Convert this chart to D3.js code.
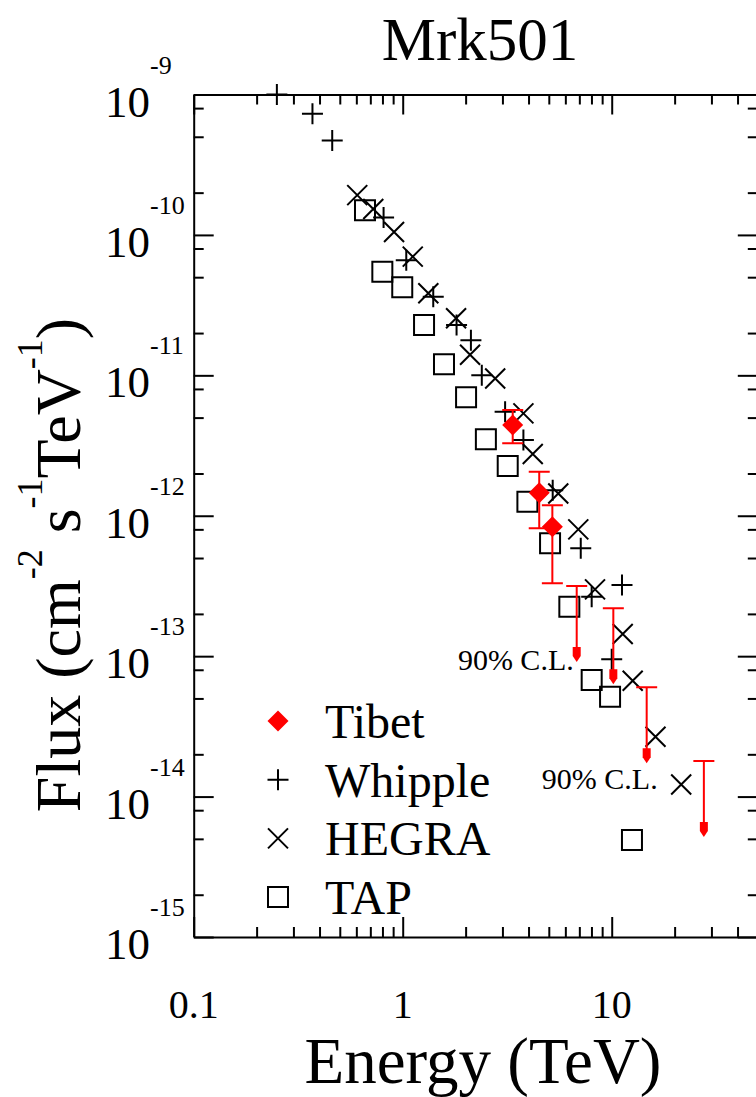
<!DOCTYPE html>
<html>
<head>
<meta charset="utf-8">
<script src="https://cdn.jsdelivr.net/npm/d3@7"></script>
<style>
  html, body { margin: 0; padding: 0; background: #fff; overflow: hidden; }
  svg { display: block; }
  text { font-family: "Liberation Serif", "Times New Roman", serif; fill: #000; }
</style>
</head>
<body>
<svg id="chart" width="756" height="1097"></svg>
<script>
// ---- Mrk501 spectrum: energy in TeV, flux in cm^-2 s^-1 TeV^-1 ----
const whippleEnergy = [0.25, 0.37, 0.46, 0.81, 1.04, 1.40, 1.81, 2.12, 2.39, 3.09, 3.78, 5.22, 7.11, 8.02, 10.0, 11.2];
const whippleFlux   = [1.0e-9, 7.3e-10, 4.7e-10, 1.33e-10, 6.6e-11, 3.63e-11, 2.28e-11, 1.78e-11, 1.0e-11, 5.5e-12, 3.46e-12, 1.52e-12, 5.86e-13, 2.65e-13, 9.5e-14, 3.21e-13];

const hegraEnergy = [0.606, 0.723, 0.909, 1.117, 1.326, 1.80, 2.10, 2.77, 3.78, 4.19, 5.55, 6.92, 8.32, 11.29, 12.6, 16.2, 21.5];
const hegraFlux   = [1.92e-10, 1.53e-10, 1.05e-10, 7.0e-11, 3.84e-11, 2.55e-11, 1.40e-11, 9.5e-12, 5.36e-12, 2.75e-12, 1.44e-12, 8.0e-13, 2.99e-13, 1.44e-13, 6.68e-14, 2.67e-14, 1.22e-14];

const tapEnergy = [0.660, 0.799, 0.995, 1.265, 1.576, 2.01, 2.50, 3.18, 3.95, 5.07, 6.27, 8.02, 9.82, 12.5];
const tapFlux   = [1.50e-10, 5.47e-11, 4.24e-11, 2.28e-11, 1.20e-11, 6.97e-12, 3.50e-12, 2.26e-12, 1.26e-12, 6.36e-13, 2.25e-13, 6.76e-14, 5.14e-14, 4.9e-15];

const tibetEnergy  = [3.36, 4.50, 5.20];
const tibetFlux    = [4.43e-12, 1.46e-12, 8.35e-13];
const tibetFluxHi  = [5.66e-12, 2.06e-12, 1.19e-12];
const tibetFluxLo  = [3.28e-12, 8.13e-13, 3.30e-13];

// Tibet 90% C.L. upper limits
const limitEnergy = [6.80, 10.18, 14.7, 27.6];
const limitFlux   = [3.16e-13, 2.19e-13, 6.0e-14, 1.79e-14];

const xTickValues = [0.1, 1, 10];
const xTickLabels = ["0.1", "1", "10"];
const yTickExponents = [-9, -10, -11, -12, -13, -14, -15];

const legendNames = ["Tibet", "Whipple", "HEGRA", "TAP"];
const legendSymbols = ["diamond", "plus", "cross", "square"];

// ---- layout ----
const svg = d3.select("#chart");
const x = d3.scaleLog().domain([0.1, 50]).range([193.7, 757.8]);
const y = d3.scaleLog().domain([1e-9, 1e-15]).range([94.5, 937]);
const RED = "#ff0000";

// tick positions
const xMinor = [];
[0.1, 1, 10].forEach(d => { for (let m = 2; m <= 9; m++) { const v = +(m * d).toPrecision(3); if (v < 50) xMinor.push(v); } });
const yMajor = yTickExponents.map(e => Math.pow(10, e));
const yMinor = [];
d3.range(-15, -9).forEach(e => [2, 5, 8].forEach(m => yMinor.push(m * Math.pow(10, e))));

function drawAxis(axisGen, scale, transform) {
  const g = svg.append("g").attr("transform", transform);
  g.call(axisGen(scale).tickValues(scale === x ? xMinor : yMinor).tickSize(-10).tickSizeOuter(0).tickFormat(""));
  const g2 = svg.append("g").attr("transform", transform);
  g2.call(axisGen(scale).tickValues(scale === x ? xTickValues : yMajor).tickSize(-20).tickSizeOuter(0).tickFormat(""));
  g2.select(".domain").remove();
  [g, g2].forEach(s => {
    s.selectAll("path.domain").attr("stroke", "#000").attr("stroke-width", 2);
    s.selectAll(".tick line").attr("stroke", "#000").attr("stroke-width", 2);
  });
}
drawAxis(d3.axisBottom, x, `translate(0,${y.range()[1]})`);
drawAxis(d3.axisTop, x, `translate(0,${y.range()[0]})`);
drawAxis(d3.axisLeft, y, `translate(${x.range()[0]},0)`);
drawAxis(d3.axisRight, y, `translate(${x.range()[1]},0)`);

// x tick labels
svg.append("g").selectAll("text").data(xTickValues).join("text")
  .attr("x", d => x(d)).attr("y", 1018)
  .attr("text-anchor", "middle").attr("font-size", 40)
  .text((d, i) => xTickLabels[i]);

// y tick labels: 10 with superscript exponent
const yl = svg.append("g").selectAll("g").data(yTickExponents).join("g")
  .attr("transform", e => `translate(0,${y(Math.pow(10, e))})`);
yl.append("text").attr("x", 150).attr("y", 22).attr("text-anchor", "end").attr("font-size", 45).text("10");
yl.append("text").attr("x", 150).attr("y", -21).attr("font-size", 26).text(e => String(e));

// title and axis titles
svg.append("text").attr("x", 480).attr("y", 60).attr("text-anchor", "middle").attr("font-size", 61).text("Mrk501");
svg.append("text").attr("x", 483).attr("y", 1083).attr("text-anchor", "middle").attr("font-size", 65).text("Energy (TeV)");

const yTitle = svg.append("text").attr("transform", "translate(80,565) rotate(-90)")
  .attr("text-anchor", "middle").attr("font-size", 64);
yTitle.append("tspan").text("Flux (cm");
yTitle.append("tspan").attr("font-size", 36).attr("dy", -38).text("-2");
yTitle.append("tspan").attr("dy", 38).text(" s");
yTitle.append("tspan").attr("font-size", 36).attr("dy", -38).text("-1");
yTitle.append("tspan").attr("dy", 38).text("TeV");
yTitle.append("tspan").attr("font-size", 36).attr("dy", -38).text("-1");
yTitle.append("tspan").attr("dy", 38).text(")");

// ---- marker shapes ----
const shapes = {
  plus:    "M-10.5,0H10.5M0,-10.5V10.5",
  cross:   "M-10,-10L10,10M-10,10L10,-10",
  square:  "M-10,-10H10V10H-10Z",
  diamond: "M0,-10.5L10.5,0L0,10.5L-10.5,0Z"
};
function styleSymbol(sel, kind) {
  if (kind === "diamond") sel.attr("fill", RED).attr("stroke", "none");
  else sel.attr("fill", "none").attr("stroke", "#000").attr("stroke-width", 2);
}
function drawSeries(energy, flux, kind) {
  const sel = svg.append("g").selectAll("path").data(energy).join("path")
    .attr("transform", (d, i) => `translate(${x(d)},${y(flux[i])})`)
    .attr("d", shapes[kind]);
  styleSymbol(sel, kind);
}
drawSeries(tapEnergy, tapFlux, "square");
drawSeries(hegraEnergy, hegraFlux, "cross");
drawSeries(whippleEnergy, whippleFlux, "plus");

// Tibet points with error bars
const capHalf = 10.5;
const tib = svg.append("g").attr("stroke", RED).attr("stroke-width", 2).attr("fill", "none");
tibetEnergy.forEach((e, i) => {
  const cx = x(e), y0 = y(tibetFluxHi[i]), y1 = y(tibetFluxLo[i]);
  tib.append("path").attr("d", `M${cx},${y0}V${y1}M${cx - capHalf},${y0}H${cx + capHalf}M${cx - capHalf},${y1}H${cx + capHalf}`);
});
drawSeries(tibetEnergy, tibetFlux, "diamond");

// upper limits: cap at the limit, arrow pointing down
const arrowLen = 76;
limitEnergy.forEach((e, i) => {
  const cx = x(e), cy = y(limitFlux[i]), tip = cy + arrowLen;
  tib.append("path").attr("d", `M${cx - capHalf},${cy}H${cx + capHalf}M${cx},${cy}V${tip - 4}`);
  svg.append("path").attr("fill", RED)
    .attr("d", `M${cx - 4},${tip - 15}H${cx + 4}V${tip - 6}L${cx},${tip}L${cx - 4},${tip - 6}Z`);
});

// 90% C.L. notes next to the upper-limit arrows
const notes = [{ idx: 0, dx: -3, dy: 84 }, { idx: 2, dx: 11, dy: 102 }];
svg.append("g").selectAll("text").data(notes).join("text")
  .attr("x", d => x(limitEnergy[d.idx]) + d.dx)
  .attr("y", d => y(limitFlux[d.idx]) + d.dy)
  .attr("text-anchor", "end").attr("font-size", 30)
  .text("90% C.L.");

// legend
const lg = svg.append("g").selectAll("g").data(legendNames).join("g")
  .attr("transform", (d, i) => `translate(0,${738 + i * 58.7})`);
lg.each(function (d, i) {
  const g = d3.select(this);
  const p = g.append("path").attr("transform", "translate(278,-17)").attr("d", shapes[legendSymbols[i]]);
  styleSymbol(p, legendSymbols[i]);
  g.append("text").attr("x", 325).attr("y", 0).attr("font-size", 48).text(d);
});
</script>
</body>
</html>
